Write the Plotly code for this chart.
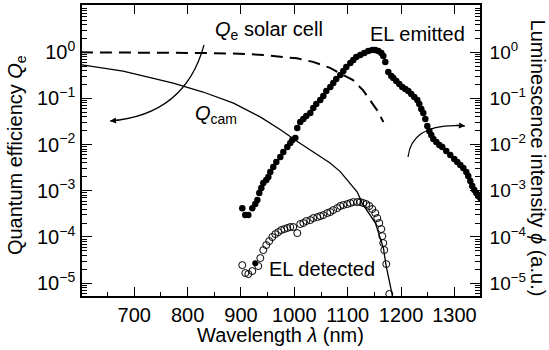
import plotly.graph_objects as go

# ---------------- data ----------------
wl_qe = [600, 650, 700, 750, 800, 850, 880, 910, 942, 974, 1005, 1035, 1067,
         1092, 1110, 1129, 1142, 1155, 1167]
qe = [1.0, 1.0, 0.99, 0.98, 0.97, 0.96, 0.95, 0.92, 0.87, 0.80, 0.74, 0.62,
      0.46, 0.32, 0.25, 0.15, 0.094, 0.056, 0.031]

wl_qcam = [600, 679, 773, 829, 886, 936, 974, 1007, 1067, 1086, 1118, 1127,
           1152, 1159, 1167, 1172, 1184, 1186]
qcam = [0.54, 0.39, 0.216, 0.138, 0.079, 0.040, 0.021, 0.0114, 0.0040, 0.0026,
        0.00094, 0.00054, 0.0002, 0.00011, 5.7e-5, 2.4e-5, 5.2e-6, 4e-6]

wl_el_emit = [902.4, 908.0, 913.7, 921.2, 926.8, 930.6, 934.3, 938.1, 941.8,
              947.4, 951.2, 954.9, 960.5, 966.2, 973.7, 979.3, 986.8, 992.4,
              996.2, 1001.8,
              1005.5, 1011.1, 1016.8, 1022.4, 1029.9, 1035.5, 1041.1, 1048.6,
              1054.3, 1059.9, 1067.4, 1073.0, 1078.6, 1086.1, 1091.8, 1097.4,
              1104.9, 1110.5, 1116.1, 1123.6, 1131.1, 1138.6, 1146.1, 1151.7,
              1157.4, 1163.0, 1166.8, 1170.5, 1176.1,
              1181.7, 1185.5, 1191.1, 1196.7, 1202.3, 1208.0, 1213.6, 1219.2,
              1224.8, 1230.5, 1234.2, 1238.0, 1241.7, 1245.5, 1249.2, 1253.0,
              1256.7, 1260.5, 1266.1, 1271.7, 1277.3, 1284.8, 1292.3, 1299.8,
              1305.4, 1311.1, 1316.7, 1322.3, 1326.0, 1329.8, 1333.5, 1337.3,
              1341.0, 1344.8, 1348.5]
el_emit = [4.2e-4, 2.98e-4, 2.98e-4, 4.2e-4, 5.15e-4, 6.3e-4, 8.9e-4, 1.15e-3,
           1.47e-3, 1.71e-3, 1.98e-3, 2.55e-3, 3.27e-3, 4.19e-3, 5.38e-3,
           6.9e-3, 8.9e-3, 1.08e-2, 1.26e-2, 1.39e-2,
           0.0229, 0.0308, 0.0358, 0.0416, 0.0483, 0.0621, 0.0757, 0.0925,
           0.113, 0.145, 0.177, 0.216, 0.264, 0.322, 0.393, 0.48, 0.586, 0.681,
           0.791, 0.874, 0.966, 1.067, 1.12, 1.12, 1.07, 0.966, 0.83, 0.616,
           0.374,
           0.306, 0.277, 0.239, 0.206, 0.177, 0.160, 0.145, 0.125, 0.107,
           0.0925, 0.0757, 0.059, 0.0483, 0.0358, 0.0253, 0.0197, 0.0161,
           0.0132, 0.0114, 0.0098, 0.00887, 0.00726, 0.00594, 0.00487, 0.00419,
           0.00361, 0.0031, 0.00255, 0.00208, 0.00162, 0.00127, 0.00104,
           0.00089, 0.00077, 0.00070]

wl_el_det = [902.4, 908.1, 913.7, 921.2, 932.4, 936.2, 941.8, 947.4, 953.0,
             958.7, 964.3, 969.9, 975.5, 981.2, 986.8, 992.4, 998.0, 1005.5,
             1011.1, 1016.8, 1022.4, 1029.9, 1035.5, 1043.0, 1048.6, 1054.3,
             1061.8, 1067.4, 1073.0, 1080.5, 1086.1, 1091.8, 1099.2, 1104.9,
             1110.5, 1118.0, 1123.6, 1129.2, 1134.9, 1140.5, 1146.1, 1151.7,
             1155.5, 1159.2, 1163.0, 1164.9, 1166.7, 1168.6, 1172.3, 1178.0]
el_det = [2.45e-5, 1.65e-5, 1.57e-5, 1.82e-5, 2.34e-5, 3.48e-5, 5.19e-5,
          6.66e-5, 8.13e-5, 9.93e-5, 1.15e-4, 1.27e-4, 1.41e-4, 1.48e-4,
          1.56e-4, 1.64e-4, 1.64e-4, 1.21e-4, 1.90e-4, 2.0e-4, 2.21e-4,
          2.32e-4, 2.56e-4, 2.69e-4, 2.83e-4, 2.98e-4, 3.29e-4, 3.46e-4,
          3.82e-4, 4.22e-4, 4.67e-4, 4.91e-4, 5.15e-4, 5.42e-4, 5.70e-4,
          5.70e-4, 5.70e-4, 5.42e-4, 5.15e-4, 4.67e-4, 4.02e-4, 3.29e-4,
          2.56e-4, 2.0e-4, 1.48e-4, 1.04e-4, 7.36e-5, 5.19e-5, 2.58e-5, 5.8e-6]

wl_el_det_filled = [926.8]
el_det_filled = [2.7e-5]

x_major = [700, 800, 900, 1000, 1100, 1200, 1300]
x_minor = [650, 750, 850, 950, 1050, 1150, 1250]
y_major = [1e-5, 1e-4, 1e-3, 1e-2, 1e-1, 1e0]
y_labels = ["10<sup>−5</sup>", "10<sup>−4</sup>", "10<sup>−3</sup>",
            "10<sup>−2</sup>", "10<sup>−1</sup>", "10<sup>0</sup>"]
y_minor = [k * 10.0 ** e for e in range(-6, 1) for k in range(2, 10)]

X_RANGE = [602, 1348]
Y_RANGE = [-5.28, 1.025]

# ---------------- figure ----------------
FONT = "Liberation Sans, Arial, Helvetica, sans-serif"
fig = go.Figure()

fig.add_trace(go.Scatter(x=wl_qe, y=qe, mode="lines",
                         line=dict(color="black", width=2, dash="12px,7px"),
                         xaxis="x", yaxis="y"))
fig.add_trace(go.Scatter(x=wl_qcam, y=qcam, mode="lines",
                         line=dict(color="black", width=1.3),
                         xaxis="x", yaxis="y"))
fig.add_trace(go.Scatter(x=wl_el_det, y=el_det, mode="markers",
                         marker=dict(symbol="circle-open", size=7, color="black",
                                     line=dict(width=1)),
                         xaxis="x2", yaxis="y2"))
fig.add_trace(go.Scatter(x=wl_el_det_filled, y=el_det_filled, mode="markers",
                         marker=dict(symbol="circle", size=6, color="black"),
                         xaxis="x2", yaxis="y2"))
fig.add_trace(go.Scatter(x=wl_el_emit, y=el_emit, mode="markers",
                         marker=dict(symbol="circle", size=6.5, color="black"),
                         xaxis="x2", yaxis="y2"))

common_x = dict(range=X_RANGE, showgrid=False, zeroline=False, showline=True,
                linecolor="black", linewidth=1.6, tickmode="array",
                tickvals=x_major, ticks="inside", ticklen=9, tickwidth=1.4,
                tickcolor="black")
common_y = dict(type="log", range=Y_RANGE, showgrid=False, zeroline=False,
                showline=True, linecolor="black", linewidth=1.6,
                tickmode="array", tickvals=y_major, ticktext=y_labels,
                ticks="inside", ticklen=10, tickwidth=1.4, tickcolor="black",
                minor=dict(tickmode="array", tickvals=y_minor, ticks="inside",
                           ticklen=5, tickwidth=1, tickcolor="black"))

fig.update_layout(
    width=549, height=350,
    margin=dict(l=82, r=69, t=5, b=54),
    paper_bgcolor="white", plot_bgcolor="white",
    showlegend=False,
    font=dict(family=FONT, size=20, color="black"),
    xaxis=dict(**common_x, side="bottom",
               minor=dict(tickmode="array", tickvals=x_minor, ticks="inside",
                          ticklen=4.5, tickwidth=1.2, tickcolor="black"),
               tickfont=dict(family=FONT, size=20, color="black"),
               ticklabelstandoff=0),
    xaxis2=dict(**common_x, side="top", overlaying="x", showticklabels=False),
    yaxis=dict(**common_y, side="left", ticklabelstandoff=1,
               tickfont=dict(family=FONT, size=20, color="black")),
    yaxis2=dict(**common_y, side="right", overlaying="y", ticklabelstandoff=4,
                tickfont=dict(family=FONT, size=19, color="black")),
)

# curved pointer arrows (paper coordinates)
fig.add_shape(type="path", xref="paper", yref="paper",
              path="M 0.3065,0.8625 Q 0.2588,0.622 0.0704,0.6014",
              line=dict(color="black", width=1.2))
fig.add_shape(type="path", xref="paper", yref="paper",
              path="M 0.8191,0.4777 Q 0.8291,0.598 0.9623,0.5842",
              line=dict(color="black", width=1.2))
fig.add_annotation(x=0.0704, y=0.6014, xref="paper", yref="paper", text="",
                   showarrow=True, ax=10, ay=-1, arrowhead=2, arrowsize=1,
                   arrowwidth=1.2, arrowcolor="black", standoff=0)
fig.add_annotation(x=0.9623, y=0.5842, xref="paper", yref="paper", text="",
                   showarrow=True, ax=-10, ay=-1, arrowhead=2, arrowsize=1,
                   arrowwidth=1.2, arrowcolor="black", standoff=0)

def label(text, px, py, size=20, angle=0):
    fig.add_annotation(x=(px - 82) / 398.5, y=(296 - py) / 291, xref="paper",
                       yref="paper", text=text, showarrow=False,
                       textangle=angle, xanchor="center", yanchor="middle",
                       font=dict(family=FONT, size=size, color="black"))

label("<i>Q</i><sub>e</sub> solar cell", 269, 30)
label("EL emitted", 418, 34)
label("<i>Q</i><sub>cam</sub>", 216, 114)
label("EL detected", 322, 269)
label("Wavelength <i>λ</i> (nm)", 281, 335, size=20)
label("Quantum efficiency <i>Q</i><sub>e</sub>", 17, 155, size=20, angle=-90)
label("Luminescence intensity <i>ϕ</i> (a.u.)", 539, 158, size=20, angle=90)

fig.write_html("out.html",
               config={"displayModeBar": False},
               post_script="document.body.style.margin='0px';"
                           "document.body.style.overflow='hidden';")
